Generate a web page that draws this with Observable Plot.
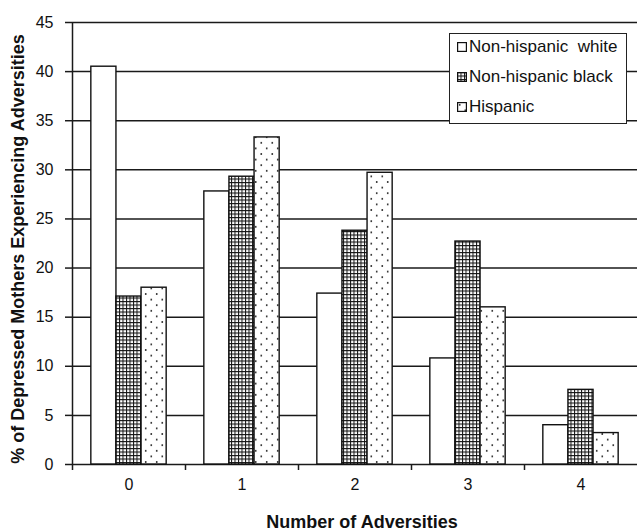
<!DOCTYPE html>
<html><head><meta charset="utf-8">
<script src="https://cdn.jsdelivr.net/npm/d3@7"></script>
<script src="https://cdn.jsdelivr.net/npm/@observablehq/plot@0.6"></script>
<style>
body{margin:0;background:#fff;}
#wrap{position:relative;width:637px;height:531px;font-family:"Liberation Sans",Arial,sans-serif;color:#111;overflow:hidden;}
.title{position:absolute;font-weight:bold;font-size:18px;white-space:nowrap;transform:translate(-50%,-50%);}
#ytitle{transform:translate(-50%,-50%) rotate(-90deg);}
#legend{position:absolute;left:449px;top:33px;width:176px;height:89px;border:1.5px solid #222;background:#fff;}
.lrow{position:absolute;left:0;height:20px;line-height:20px;font-size:17px;white-space:pre;}
.lrow svg{position:absolute;left:7px;top:5px;}
.lrow span{position:absolute;left:19px;top:0;}
</style></head><body>
<svg width="0" height="0" style="position:absolute">
<defs>
<pattern id="pat-grid" patternUnits="userSpaceOnUse" width="3.5" height="3.5">
  <rect width="3.5" height="3.5" fill="#fff"/>
  <path d="M0,0.5H3.5M0.5,0V3.5" stroke="#111" stroke-width="1"/>
</pattern>
<pattern id="pat-dots" patternUnits="userSpaceOnUse" width="11" height="11.2">
  <rect width="11" height="11.2" fill="#fff"/>
  <circle cx="2.75" cy="2.8" r="0.95" fill="#222"/>
  <circle cx="8.25" cy="8.4" r="0.95" fill="#222"/>
</pattern>
</defs></svg>
<div id="wrap"></div>
<script>
const categories = [0, 1, 2, 3, 4];
const series = ["Non-hispanic  white", "Non-hispanic black", "Hispanic"];
const nonHispanicWhite = [40.5, 27.8, 17.4, 10.8, 4.0];
const nonHispanicBlack = [17.1, 29.3, 23.8, 22.7, 7.6];
const hispanic = [18.0, 33.3, 29.7, 16.0, 3.2];
const yTicks = [0, 5, 10, 15, 20, 25, 30, 35, 40, 45];
const xTitle = "Number of Adversities";
const yTitle = "% of Depressed Mothers Experiencing Adversities";
const fills = ["#fff", "url(#pat-grid)", "url(#pat-dots)"];

const valuesBySeries = [nonHispanicWhite, nonHispanicBlack, hispanic];
const rows = [];
categories.forEach((c, i) => {
  valuesBySeries.forEach((vals, j) => rows.push({cat: c, j, series: series[j], value: vals[i]}));
});
const groupHalf = 1 / 3, barW = 2 / 9;
const boundaries = categories.map(c => c - 0.5);

const plot = Plot.plot({
  width: 637, height: 531,
  marginTop: 22, marginBottom: 67, marginLeft: 72, marginRight: 0,
  style: {fontFamily: "Liberation Sans, Arial, sans-serif", fontSize: "16px", color: "#111", background: "white"},
  x: {type: "linear", domain: [-0.5, 4.5]},
  y: {domain: [0, 45]},
  marks: [
    Plot.ruleY(yTicks, {stroke: "#1a1a1a", strokeWidth: 1.5}),
    Plot.rect(rows, {
      x1: d => d.cat - groupHalf + d.j * barW,
      x2: d => d.cat - groupHalf + (d.j + 1) * barW,
      y1: 0, y2: "value",
      fill: d => fills[d.j], stroke: "#111", strokeWidth: 1.4
    }),
    Plot.ruleX([-0.5], {stroke: "#1a1a1a", strokeWidth: 1.5}),
    Plot.axisY({ticks: yTicks, tickSize: 7, tickPadding: 12, label: null, strokeWidth: 1.5, stroke: "#1a1a1a"}),
    Plot.axisX({ticks: boundaries, tickSize: 6, tickFormat: () => "", label: null, strokeWidth: 1.5, stroke: "#1a1a1a"}),
    Plot.axisX({ticks: categories, tickSize: 0, tickPadding: 14, tickFormat: d => String(d), label: null})
  ]
});
const wrap = document.getElementById("wrap");
wrap.appendChild(plot);

const xt = document.createElement("div");
xt.className = "title"; xt.style.left = "362px"; xt.style.top = "522px"; xt.textContent = xTitle;
wrap.appendChild(xt);
const yt = document.createElement("div");
yt.className = "title"; yt.id = "ytitle"; yt.style.left = "18px"; yt.style.top = "249px"; yt.textContent = yTitle;
wrap.appendChild(yt);

const legend = document.createElement("div");
legend.id = "legend";
series.forEach((s, j) => {
  const r = document.createElement("div");
  r.className = "lrow";
  r.style.top = (3 + j * 30) + "px";
  r.innerHTML = `<svg width="10" height="10"><rect x="0.6" y="0.6" width="8.8" height="8.8" fill="${fills[j]}" stroke="#111" stroke-width="1.2"/></svg><span></span>`;
  r.querySelector("span").textContent = s;
  legend.appendChild(r);
});
wrap.appendChild(legend);
</script>
</body></html>
